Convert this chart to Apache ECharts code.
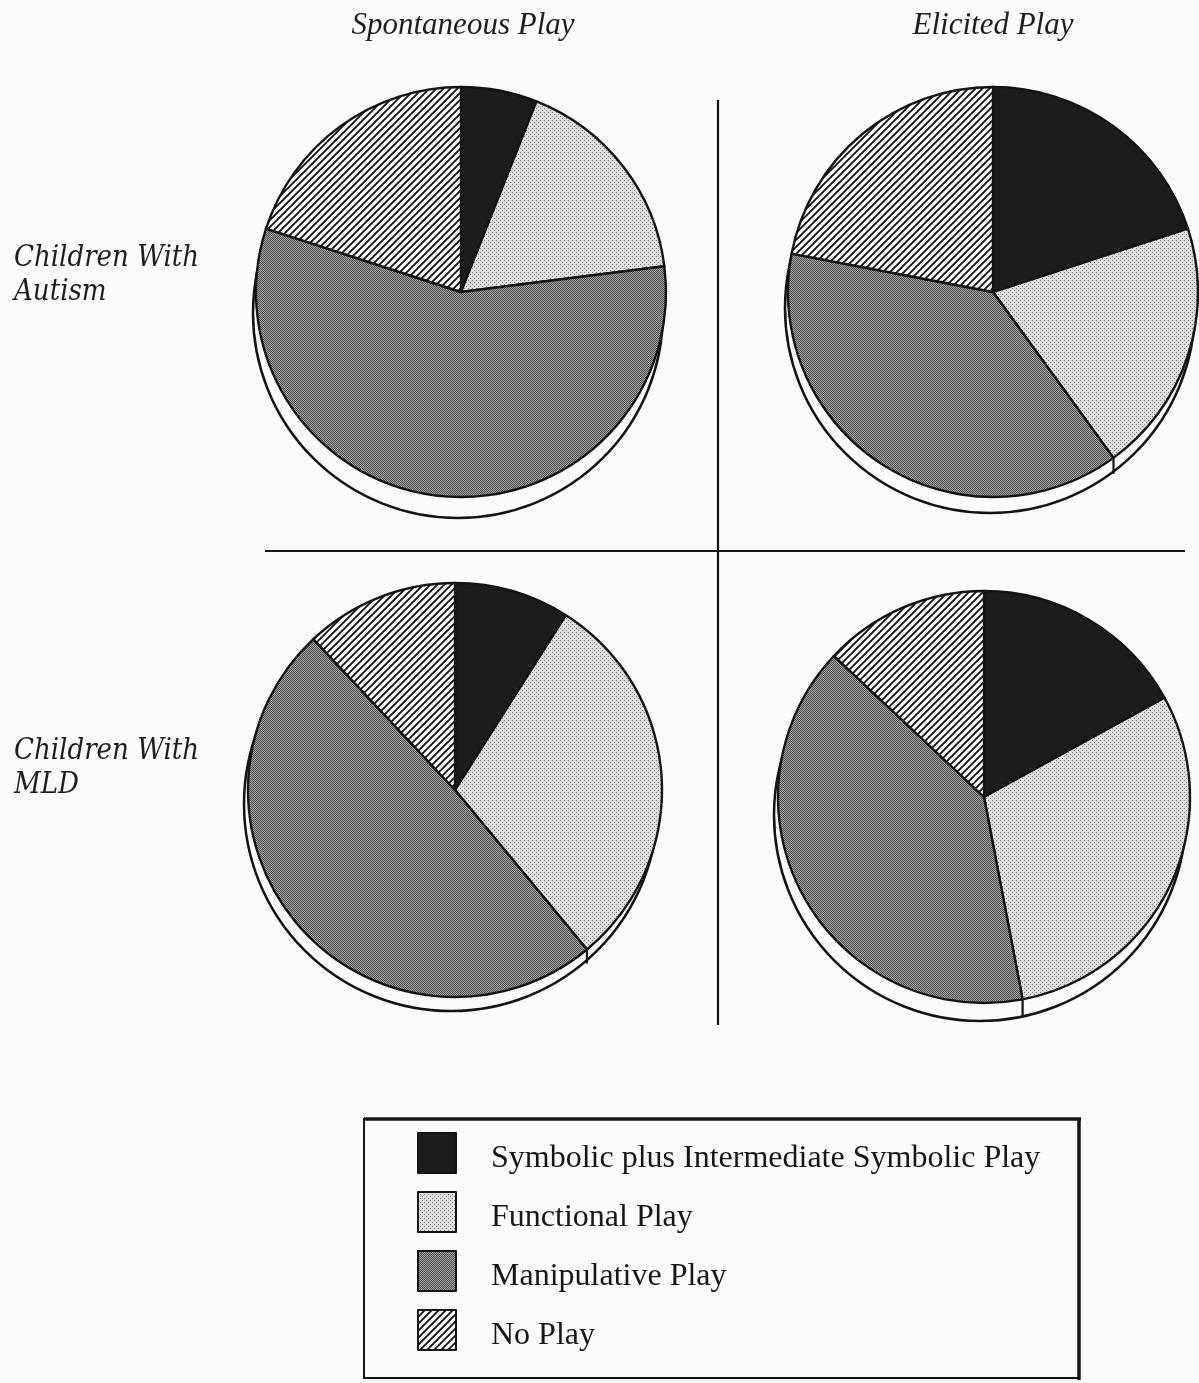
<!DOCTYPE html>
<html>
<head>
<meta charset="utf-8">
<script src="https://cdn.jsdelivr.net/npm/echarts@6/dist/echarts.min.js"></script>
<style>
  html, body { margin: 0; padding: 0; background: #fbfbfb; }
  #chart { width: 1199px; height: 1383px; }
</style>
</head>
<body>
<div id="chart"></div>
<script>
// Play categories (clockwise from 12 o'clock) and percentages per group/condition
const categories = [
  'Symbolic plus Intermediate Symbolic Play',
  'Functional Play',
  'Manipulative Play',
  'No Play'
];
const columnTitles = ['Spontaneous Play', 'Elicited Play'];
const rowTitles = [['Children With', 'Autism'], ['Children With', 'MLD']];

const autismSpontaneous = [6, 17, 57, 20];
const autismElicited = [20, 20, 38, 22];
const mldSpontaneous = [9, 30, 49, 12];
const mldElicited = [17, 30, 40, 13];

// Panel geometry: centre, radius and the offset of the pie's lower rim
const panels = [
  { values: autismSpontaneous, center: [461, 292], r: 205, depth: [-3, 21] },
  { values: autismElicited,    center: [993, 292], r: 205, depth: [-3, 16] },
  { values: mldSpontaneous,    center: [455, 790], r: 207, depth: [-4, 14] },
  { values: mldElicited,       center: [984, 797], r: 206, depth: [-4, 18] }
];

const INK = '#141414';
const PAPER = '#fbfbfb';

function tile(size, draw) {
  const c = document.createElement('canvas');
  c.width = c.height = size;
  draw(c.getContext('2d'), size);
  return { image: c, repeat: 'repeat' };
}

const solidFill = '#1c1c1c';
const lightDots = tile(4, (ctx) => {
  ctx.fillStyle = '#dedede'; ctx.fillRect(0, 0, 4, 4);
  ctx.fillStyle = '#7c7c7c';
  ctx.fillRect(0, 0, 1, 1); ctx.fillRect(2, 2, 1, 1);
});
const darkDots = tile(2, (ctx) => {
  ctx.fillStyle = '#a8a8a8'; ctx.fillRect(0, 0, 2, 2);
  ctx.fillStyle = '#4a4a4a';
  ctx.fillRect(0, 0, 1, 1); ctx.fillRect(1, 1, 1, 1);
});
const hatch = tile(7, (ctx, s) => {
  ctx.fillStyle = PAPER; ctx.fillRect(0, 0, s, s);
  ctx.strokeStyle = INK; ctx.lineWidth = 1.9;
  ctx.beginPath();
  ctx.moveTo(0, s); ctx.lineTo(s, 0);
  ctx.moveTo(-1, 1); ctx.lineTo(1, -1);
  ctx.moveTo(s - 1, s + 1); ctx.lineTo(s + 1, s - 1);
  ctx.stroke();
});
const fills = [solidFill, lightDots, darkDots, hatch];

const series = [];
const graphics = [];

panels.forEach((p, k) => {
  // lower rim of the disc
  series.push({
    type: 'pie',
    name: 'rim' + k,
    center: [p.center[0] + p.depth[0], p.center[1] + p.depth[1]],
    radius: p.r,
    silent: true,
    animation: false,
    label: { show: false },
    labelLine: { show: false },
    emphasis: { disabled: true },
    itemStyle: { color: PAPER, borderColor: INK, borderWidth: 2.5 },
    data: [{ name: 'rim', value: 1 }]
  });
  // top face with the four play categories
  series.push({
    type: 'pie',
    name: 'panel' + k,
    center: p.center,
    radius: p.r,
    startAngle: 90,
    clockwise: true,
    silent: true,
    animation: false,
    label: { show: false },
    labelLine: { show: false },
    emphasis: { disabled: true },
    itemStyle: { borderColor: INK, borderWidth: 2.4 },
    data: categories.map((name, i) => ({
      name, value: p.values[i], itemStyle: { color: fills[i] }
    }))
  });

  // vertical edges on the rim where a slice boundary meets the visible side
  const total = p.values.reduce((a, b) => a + b, 0);
  let acc = 0;
  p.values.forEach((v) => {
    acc += v;
    const th = acc / total * Math.PI * 2;
    const x = p.center[0] + p.r * Math.sin(th);
    const y = p.center[1] - p.r * Math.cos(th);
    const x2 = x + p.depth[0], y2 = y + p.depth[1];
    const d = Math.hypot(x2 - p.center[0], y2 - p.center[1]);
    if (d > p.r + 2) {
      graphics.push({
        type: 'line', z: 100,
        shape: { x1: x, y1: y, x2: x, y2: y2 },
        style: { stroke: INK, lineWidth: 2.2 }
      });
    }
  });
});

// column headings
const colCenters = [463, 993];
columnTitles.forEach((t, i) => {
  graphics.push({
    type: 'text', x: colCenters[i], y: 26,
    style: {
      text: t, fill: '#1e1e1e', align: 'center', verticalAlign: 'middle',
      font: 'italic 31px "Liberation Serif", "Times New Roman", serif'
    }
  });
});

// row headings
const rowCenters = [275, 768];
rowTitles.forEach((lines, i) => {
  graphics.push({
    type: 'text', x: 14, y: rowCenters[i],
    style: {
      text: lines.join('\n'), fill: '#1e1e1e', align: 'left', verticalAlign: 'middle',
      lineHeight: 34,
      font: 'italic 29px "DejaVu Serif Condensed", "DejaVu Serif", serif'
    }
  });
});

// quadrant dividers
graphics.push(
  { type: 'line', shape: { x1: 718, y1: 100, x2: 718, y2: 1025 }, style: { stroke: INK, lineWidth: 2.2 } },
  { type: 'line', shape: { x1: 265, y1: 551, x2: 1185, y2: 551 }, style: { stroke: INK, lineWidth: 2.2 } }
);

// legend frame
graphics.push(
  { type: 'rect', shape: { x: 364, y: 1119, width: 715, height: 259 }, style: { fill: 'none', stroke: INK, lineWidth: 2 } },
  { type: 'line', shape: { x1: 364, y1: 1119, x2: 1081, y2: 1119 }, style: { stroke: INK, lineWidth: 3.5 } },
  { type: 'line', shape: { x1: 1079, y1: 1119, x2: 1079, y2: 1380 }, style: { stroke: INK, lineWidth: 3.5 } }
);

const chart = echarts.init(document.getElementById('chart'), null, { renderer: 'canvas' });
chart.setOption({
  backgroundColor: PAPER,
  animation: false,
  legend: {
    data: categories,
    orient: 'vertical',
    left: 417,
    top: 1132,
    itemWidth: 38,
    itemHeight: 40,
    itemGap: 16,
    icon: 'rect',
    selectedMode: false,
    padding: 0,
    itemStyle: { borderColor: INK, borderWidth: 2 },
    formatter: (name) => '{t|' + name + '}',
    textStyle: {
      fontFamily: '"Liberation Serif", "Times New Roman", serif',
      fontSize: 32,
      color: '#161616',
      padding: [0, 0, 0, 30],
      rich: {
        t: {
          fontFamily: '"Liberation Serif", "Times New Roman", serif',
          fontSize: 32,
          color: '#161616',
          padding: [12, 0, 0, 0]
        }
      }
    }
  },
  series,
  graphic: { elements: graphics }
});
</script>
</body>
</html>
